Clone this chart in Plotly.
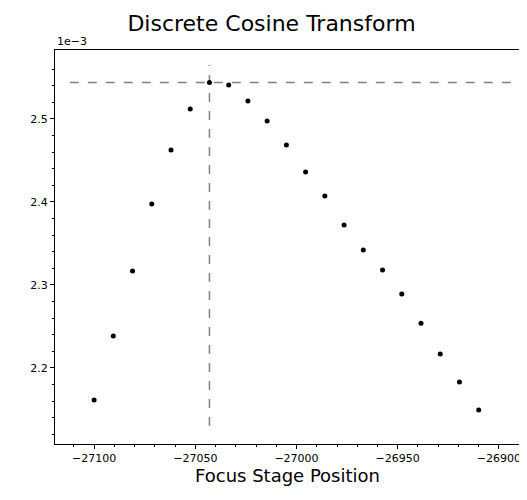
import numpy as np
import plotly.graph_objects as go

# focus stage positions and DCT focus metric (x 1e-3)
positions = [-27100, -27090.5, -27081, -27071.5, -27062, -27052.5, -27043, -27033.5,
             -27024, -27014.5, -27005, -26995.5, -26986, -26976.5, -26967, -26957.5,
             -26948, -26938.5, -26929, -26919.5, -26910]
metric = [2.1614, 2.2386, 2.3169, 2.3976, 2.4627, 2.5120, 2.5440, 2.5410,
          2.5217, 2.4976, 2.4687, 2.4361, 2.4072, 2.3723, 2.3422, 2.3180,
          2.2890, 2.2540, 2.2169, 2.1831, 2.1494]
metric = [v * 1e-3 for v in metric]
best_pos = -27043
best_val = 2.544e-3

ytick_vals = [2.2e-3, 2.3e-3, 2.4e-3, 2.5e-3]
ytick_text = ["2.2", "2.3", "2.4", "2.5"]
xtick_vals = [-27100, -27050, -27000, -26950, -26900]
xtick_text = ["\u221227100", "\u221227050", "\u221227000", "\u221226950", "\u221226900"]

fig = go.Figure()
fig.add_trace(go.Scatter(x=[-27112, -26890], y=[best_val, best_val], mode="lines",
                         line=dict(color="grey", dash="dash", width=1.5)))
fig.add_trace(go.Scatter(x=[best_pos, best_pos], y=[2.13e-3, 2.565e-3], mode="lines",
                         line=dict(color="grey", dash="dash", width=1.5)))
fig.add_trace(go.Scatter(x=positions, y=metric, mode="markers",
                         marker=dict(color="black", size=5)))

axis = dict(showline=True, linecolor="black", mirror=True, showgrid=False, zeroline=False,
            ticks="outside", ticklen=4, tickcolor="black", automargin=False,
            tickfont=dict(family="DejaVu Sans", size=11, color="black"))
fig.update_xaxes(range=[-27119.3, -26889.6], tickvals=xtick_vals, ticktext=xtick_text,
                 minor=dict(ticks="outside", ticklen=2, dtick=10, tickcolor="black"),
                 title=dict(text="Focus Stage Position", font=dict(family="DejaVu Sans", size=18, color="black"), standoff=4),
                 **axis)
fig.update_yaxes(range=[2.1084e-3, 2.5831e-3], tickvals=ytick_vals, ticktext=ytick_text,
                 minor=dict(ticks="outside", ticklen=2, tickvals=[v * 1e-3 for v in np.arange(2.12, 2.58, 0.02)], tickcolor="black"),
                 **axis)
fig.update_layout(
    width=527, height=500, showlegend=False,
    plot_bgcolor="white", paper_bgcolor="white",
    margin=dict(l=47, r=15, t=42, b=64),
    title=dict(text="Discrete Cosine Transform", x=0.5, xanchor="center", y=0.985, yanchor="top",
               font=dict(family="DejaVu Sans", size=22, color="black")),
    annotations=[dict(text="1e\u22123", xref="paper", yref="paper", x=0, y=1, xanchor="left",
                      yanchor="bottom", showarrow=False,
                      font=dict(family="DejaVu Sans", size=11, color="black"))],
)
fig.write_html("out.html")
